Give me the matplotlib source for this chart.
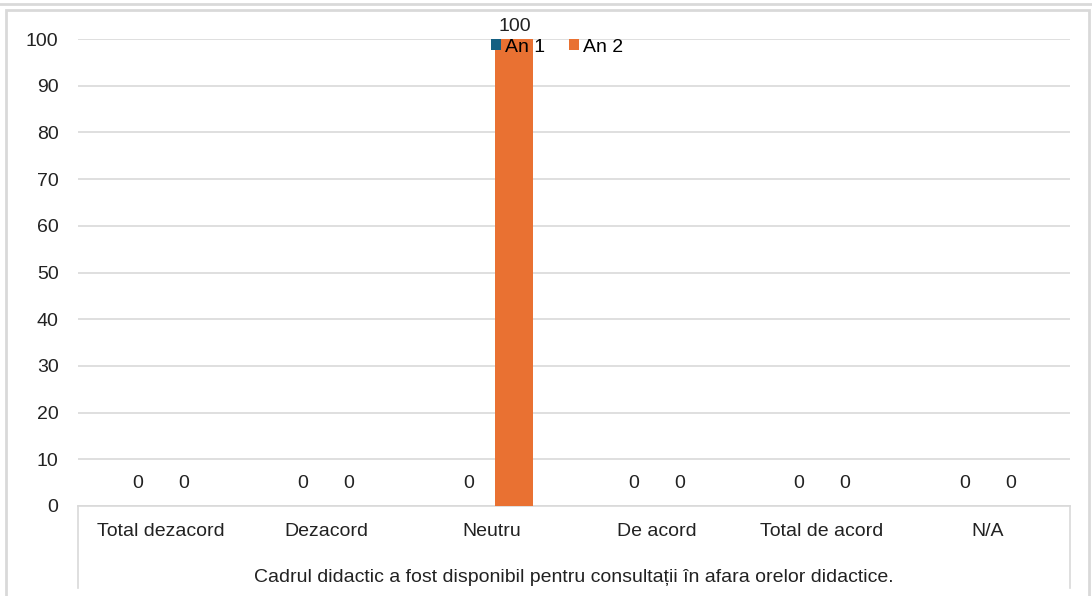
import numpy as np
import matplotlib.pyplot as plt
from matplotlib.lines import Line2D
from matplotlib.patches import Rectangle

categories = ['Total dezacord', 'Dezacord', 'Neutru', 'De acord', 'Total de acord', 'N/A']
an1 = [0, 0, 0, 0, 0, 0]
an2 = [0, 0, 100, 0, 0, 0]
series_names = ['An 1', 'An 2']
outer_label = 'Cadrul didactic a fost disponibil pentru consultații în afara orelor didactice.'
yticks = [0, 10, 20, 30, 40, 50, 60, 70, 80, 90, 100]

plt.rcParams['font.family'] = ['Liberation Sans', 'DejaVu Sans']
FS = 14
W, H = 1092, 596
fig = plt.figure(figsize=(W / 100, H / 100), dpi=100)

# axes placed in pixel coords: x 78..1070, y(0)=506, y(100)=39
x0, x1 = 78, 1070
ybot, ytop = 506, 39
ax = fig.add_axes([x0 / W, 1 - ybot / H, (x1 - x0) / W, (ybot - ytop) / H])

x = np.arange(len(categories))
w = 0.23
off = 0.139
colors = ['#156082', '#E97132']
b1 = ax.bar(x - off, an1, w, color=colors[0], label=series_names[0], zorder=3)
b2 = ax.bar(x + off, an2, w, color=colors[1], label=series_names[1], zorder=3)

for bars, vals in ((b1, an1), (b2, an2)):
    for rect, v in zip(bars, vals):
        dy = 3 if v > 0 else 10
        ax.annotate(f'{v}', (rect.get_x() + rect.get_width() / 2, v),
                    xytext=(0, dy), textcoords='offset points',
                    ha='center', va='bottom', fontsize=FS, color='#222222')

ax.set_xlim(-0.5, len(categories) - 0.5)
ax.set_ylim(0, 100)
ax.set_yticks(yticks)
ax.set_yticklabels([str(t) for t in yticks], fontsize=FS, color='#222222')
ax.yaxis.grid(True, color='#d9d9d9', linewidth=1.2, zorder=0)
ax.tick_params(axis='y', length=0, pad=14)
ax.set_xticks(x)
ax.set_xticklabels(categories, fontsize=FS, color='#222222')
ax.tick_params(axis='x', length=0, pad=12)
for s in ['top', 'right', 'left']:
    ax.spines[s].set_visible(False)
ax.spines['bottom'].set_color('#d9d9d9')
ax.spines['bottom'].set_linewidth(1.2)

# multi-level axis separators and outer label
def fx(px):
    return px / W
def fy(py):
    return 1 - py / H
for px in (x0, x1):
    fig.add_artist(Line2D([fx(px), fx(px)], [fy(506), fy(588)], color='#d9d9d9', lw=1.2))
fig.text(fx((x0 + x1) / 2), fy(578), outer_label, ha='center', va='center',
         fontsize=FS, color='#222222')

# chart frame and top line
fig.add_artist(Line2D([0, 1], [fy(4), fy(4)], color='#d9d9d9', lw=2))
fig.add_artist(Rectangle((fx(6), fy(596) - 0.01), fx(1089) - fx(6), fy(10) - fy(596) + 0.01,
                         fill=False, edgecolor='#d9d9d9', lw=2))

# legend centred around pixel (557, 47)
leg = ax.legend(loc='center', bbox_to_anchor=((557 - x0) / (x1 - x0), (ybot - 47) / (ybot - ytop)),
                ncol=2, frameon=False, fontsize=FS, handlelength=0.55, handleheight=0.55,
                handletextpad=0.2, columnspacing=1.2, borderpad=0)

fig.savefig('out.png', dpi=100)
plt.close(fig)
